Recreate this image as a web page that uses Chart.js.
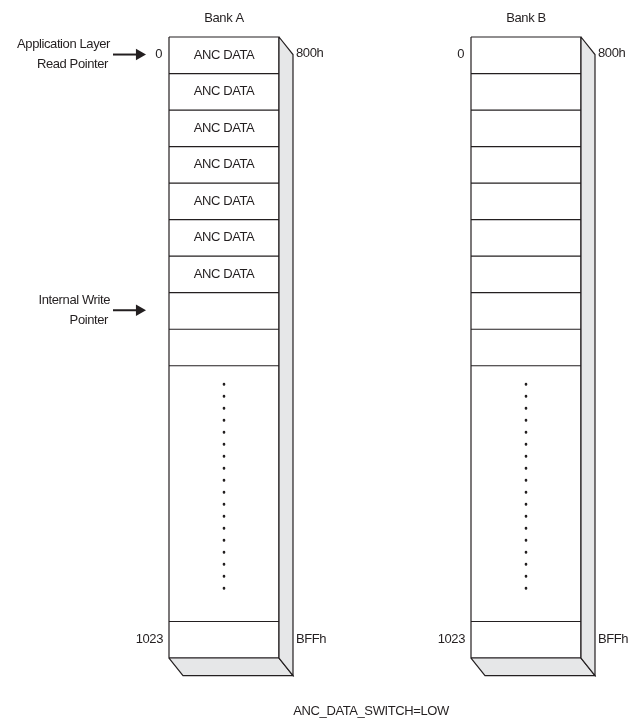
<!DOCTYPE html>
<html>
<head>
<meta charset="utf-8">
<script src="https://cdn.jsdelivr.net/npm/chart.js@4/dist/chart.umd.min.js"></script>
<style>
    html, body { margin: 0; padding: 0; background: #fff; }
    #wrap { width: 634px; height: 721px; position: relative; }
</style>
</head>
<body>
<div id="wrap"><canvas id="diagram"></canvas></div>
<script>
// memory banks
const banks = ["Bank A", "Bank B"];
const firstIndex = ["0", "0"];
const lastIndex = ["1023", "1023"];
const firstAddr = ["800h", "800h"];
const lastAddr = ["BFFh", "BFFh"];

// contents of the top slots of each bank
const slotsA = ["ANC DATA", "ANC DATA", "ANC DATA", "ANC DATA", "ANC DATA", "ANC DATA", "ANC DATA", "", ""];
const slotsB = ["", "", "", "", "", "", "", "", ""];
const bankSlots = [slotsA, slotsB];

// row edges in slot units, the tall row 9..16 stands for the elided slots
const rowEdges = [0, 1, 2, 3, 4, 5, 6, 7, 8, 9, 16, 17];
const gapRow = [9, 16];

// pointers into Bank A
const pointerText = [["Application Layer", "Read Pointer"], ["Internal Write", "Pointer"]];
const pointerSlot = [0, 7];

const footnote = "ANC_DATA_SWITCH=LOW";

// drawing constants
const ink = "#231f20";
const shade = "#e6e7e8";
const PX = 302;          // px per bank step
const SLOT = 36.53;      // px per slot
const halfW = 55 / PX;
const depthX = 14 / PX;
const depthY = 0.48;
const font = "13px 'Liberation Sans', Arial, sans-serif";

const last = rowEdges[rowEdges.length - 1];
const datasets = [];

function poly(pts, extra) {
    datasets.push(Object.assign({
        data: pts.map(p => ({ x: p[0], y: p[1] })),
        showLine: true,
        borderColor: ink,
        borderWidth: 1.2,
        pointRadius: 0,
        fill: false,
        tension: 0
    }, extra || {}));
}

banks.forEach((b, i) => {
    const l = i - halfW, r = i + halfW;
    // right face
    poly([[r, 0], [r + depthX, depthY], [r + depthX, last + depthY], [r, last], [r, 0]],
        { fill: "shape", backgroundColor: shade });
    // bottom face
    poly([[l, last], [r, last], [r + depthX, last + depthY], [l + depthX, last + depthY], [l, last]],
        { fill: "shape", backgroundColor: shade });
    // front
    poly([[l, 0], [r, 0], [r, last], [l, last], [l, 0]]);
    rowEdges.slice(1, -1).forEach(e => poly([[l, e], [r, e]]));
    // elided slots
    poly([[i, gapRow[0] + 0.5], [i, gapRow[1] - 0.86]],
        { borderWidth: 2.6, borderDash: [0.5, 11.5], borderCapStyle: "round" });
});

pointerSlot.forEach(s => {
    poly([[-(111 / PX), s + 0.48], [-(84.7 / PX), s + 0.48]], {
        borderWidth: 2,
        pointRadius: [0, 6.7],
        pointStyle: "triangle",
        rotation: 90,
        pointBackgroundColor: ink,
        pointBorderColor: ink,
        pointBorderWidth: 0
    });
});

const labels = {
    id: "labels",
    afterDatasetsDraw(chart) {
        const { ctx, scales: { x, y } } = chart;
        ctx.save();
        ctx.fillStyle = ink;
        ctx.font = font;
        ctx.letterSpacing = "-0.4px";
        ctx.textBaseline = "middle";

        banks.forEach((b, i) => {
            const cx = x.getPixelForValue(i);
            const left = x.getPixelForValue(i - halfW);
            const right = x.getPixelForValue(i + halfW + depthX);
            ctx.textAlign = "center";
            ctx.fillText(b, cx, y.getPixelForValue(-0.52));
            bankSlots[i].forEach((t, k) => {
                if (t) ctx.fillText(t, cx, y.getPixelForValue(k + 0.5));
            });
            ctx.textAlign = "right";
            ctx.fillText(firstIndex[i], left - 7, y.getPixelForValue(0.48));
            ctx.fillText(lastIndex[i], left - 6, y.getPixelForValue(last - 0.5));
            ctx.textAlign = "left";
            ctx.fillText(firstAddr[i], right + 3, y.getPixelForValue(0.45));
            ctx.fillText(lastAddr[i], right + 3, y.getPixelForValue(last - 0.5));
        });

        ctx.textAlign = "right";
        pointerSlot.forEach((s, k) => {
            const py = y.getPixelForValue(s + 0.48);
            ctx.fillText(pointerText[k][0], x.getPixelForValue(-(114 / PX)), py - 10);
            ctx.fillText(pointerText[k][1], x.getPixelForValue(-(116 / PX)), py + 10);
        });

        ctx.textAlign = "center";
        ctx.fillText(footnote, x.getPixelForValue(0.487), y.getPixelForValue(last + 1.47));
        ctx.restore();
    }
};

new Chart(document.getElementById("diagram"), {
    type: "scatter",
    data: { datasets },
    options: {
        responsive: true,
        maintainAspectRatio: false,
        animation: false,
        events: [],
        layout: { padding: 0, autoPadding: false },
        plugins: { legend: { display: false }, tooltip: { enabled: false } },
        scales: {
            x: { type: "linear", display: false, min: -224 / PX, max: (634 - 224) / PX },
            y: { type: "linear", display: false, reverse: true, min: -37 / SLOT, max: (721 - 37) / SLOT }
        }
    },
    plugins: [labels]
});
</script>
</body>
</html>
